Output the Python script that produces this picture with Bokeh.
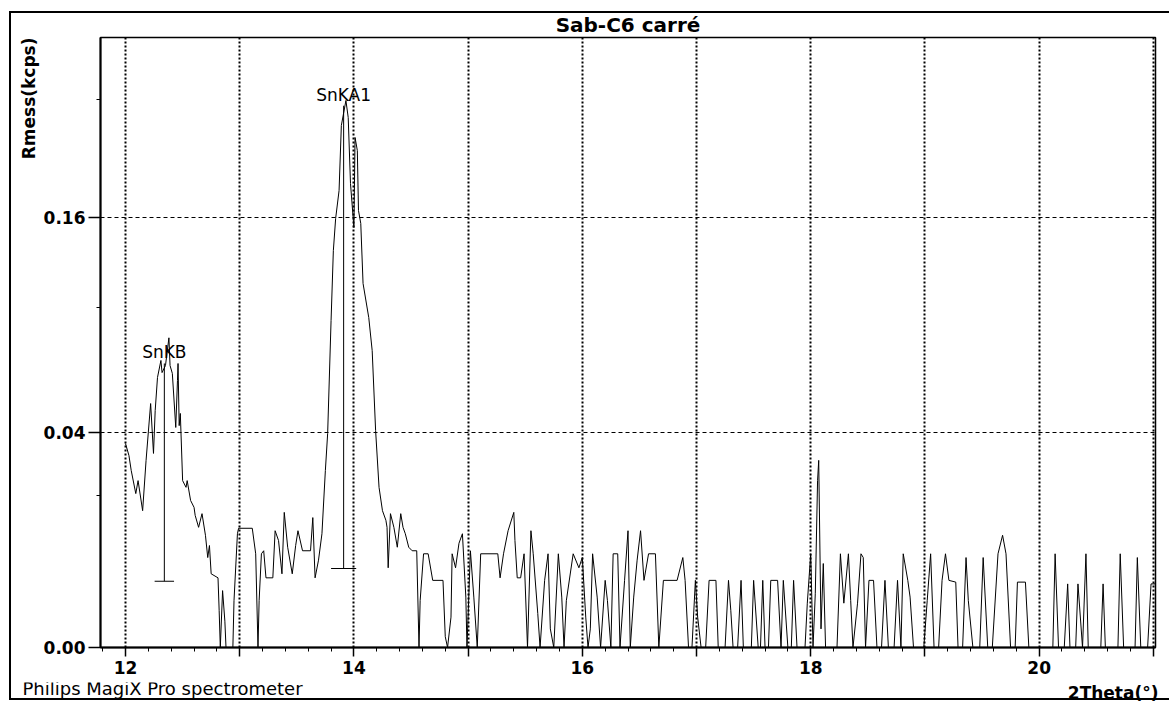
import numpy as np
from bokeh.plotting import figure
from bokeh.layouts import column
from bokeh.models import FixedTicker, CustomJSTickFormatter, Title
from bokeh.embed import file_html
from bokeh.resources import INLINE
from bokeh.core.properties import value

# ---------------- data (2Theta in degrees, intensity in kcps) ----------------
theta_1 = [12.00, 12.03, 12.05, 12.09, 12.11, 12.15, 12.18, 12.22, 12.245, 12.26,
           12.28, 12.31, 12.32, 12.35, 12.38, 12.39, 12.41, 12.44, 12.455, 12.46,
           12.47, 12.48, 12.50, 12.53, 12.54, 12.57, 12.60, 12.61, 12.64, 12.67,
           12.70, 12.72, 12.735, 12.75, 12.81, 12.82, 12.83, 12.85, 12.87, 12.88,
           12.94, 12.95, 12.98]
kcps_1 = [0.036, 0.0319, 0.0271, 0.0205, 0.0241, 0.0162, 0.0303, 0.0515, 0.0326, 0.0486,
          0.0631, 0.0713, 0.0654, 0.0688, 0.083, 0.0688, 0.065, 0.0419, 0.0617, 0.0698,
          0.0426, 0.0474, 0.0241, 0.0222, 0.0241, 0.0187, 0.0170, 0.0151, 0.0125, 0.0155,
          0.0109, 0.0070, 0.0090, 0.0047, 0.0042, 0.0012, 0.0, 0.0028, 0.0006, 0.0,
          0.0, 0.0019, 0.0112]

theta_2 = [12.99, 13.11, 13.14, 13.16, 13.17, 13.19, 13.21, 13.23, 13.29, 13.31,
           13.34, 13.37, 13.39, 13.42, 13.46, 13.49, 13.51, 13.55, 13.62, 13.64,
           13.66, 13.69, 13.72, 13.75, 13.77, 13.80, 13.82, 13.84, 13.87, 13.89,
           13.93, 13.95, 13.97, 14.00, 14.01, 14.03, 14.04, 14.06, 14.08, 14.13,
           14.16, 14.19, 14.22, 14.25, 14.28, 14.29, 14.30, 14.32, 14.35, 14.38,
           14.41, 14.43, 14.45, 14.48, 14.51, 14.55]
kcps_2 = [0.0123, 0.0123, 0.0076, 0.0, 0.0019, 0.0076, 0.0081, 0.0042, 0.0042, 0.0118,
          0.0099, 0.0047, 0.0158, 0.0087, 0.0047, 0.0090, 0.0118, 0.0081, 0.0081, 0.0146,
          0.0042, 0.0066, 0.0112, 0.0271, 0.0396, 0.0925, 0.1363, 0.1593, 0.1807, 0.2358,
          0.2589, 0.2431, 0.1863, 0.1526, 0.2251, 0.2137, 0.1653, 0.1556, 0.1147, 0.0942,
          0.0763, 0.0407, 0.0222, 0.0162, 0.0140, 0.0125, 0.0055, 0.0155, 0.0125, 0.0087,
          0.0155, 0.0125, 0.0112, 0.0087, 0.0081, 0.0081]

theta_3 = [14.57, 14.58, 14.61, 14.65, 14.69, 14.78, 14.80, 14.82, 14.85, 14.86,
           14.89, 14.92, 14.95, 14.98, 14.99, 15.02, 15.05, 15.08, 15.11, 15.26,
           15.28, 15.31, 15.35, 15.40, 15.41, 15.43, 15.46, 15.49, 15.52, 15.55,
           15.57, 15.61, 15.63, 15.67, 15.70, 15.72, 15.75, 15.79, 15.82, 15.84,
           15.86, 15.92, 15.97, 16.00, 16.03, 16.05, 16.07, 16.09, 16.13, 16.16,
           16.20, 16.22, 16.25, 16.27, 16.31, 16.33, 16.37, 16.40, 16.42, 16.45,
           16.48, 16.51, 16.54, 16.58, 16.64, 16.67, 16.71, 16.83, 16.88, 16.90,
           16.93, 16.96]
kcps_3 = [0.0, 0.0019, 0.0076, 0.0076, 0.0039, 0.0039, 0.0001, 0.0, 0.0008, 0.0076,
          0.0055, 0.0094, 0.0112, 0.0022, 0.0, 0.0081, 0.0022, 0.0, 0.0076, 0.0076,
          0.0042, 0.0076, 0.0118, 0.0158, 0.0099, 0.0042, 0.0042, 0.0076, 0.0, 0.0118,
          0.0076, 0.0010, 0.0, 0.0039, 0.0076, 0.0003, 0.0, 0.0076, 0.0022, 0.0,
          0.0019, 0.0076, 0.0055, 0.0070, 0.0008, 0.0, 0.0003, 0.0076, 0.0022, 0.0,
          0.0039, 0.0019, 0.0, 0.0076, 0.0076, 0.0, 0.0039, 0.0118, 0.0, 0.0022,
          0.0066, 0.0118, 0.0039, 0.0076, 0.0076, 0.0, 0.0039, 0.0039, 0.0070, 0.0039,
          0.0, 0.0]

theta_4 = [16.99, 17.01, 17.04, 17.08, 17.11, 17.17, 17.19, 17.25, 17.28, 17.30,
           17.32, 17.36, 17.39, 17.41, 17.48, 17.50, 17.54, 17.56, 17.58, 17.60,
           17.63, 17.65, 17.71, 17.74, 17.76, 17.80, 17.83, 17.85, 17.88, 17.95,
           17.97, 18.00, 18.02, 18.04, 18.06, 18.07, 18.09, 18.11, 18.13, 18.23,
           18.26, 18.29, 18.33, 18.35, 18.37, 18.41, 18.44, 18.46, 18.48, 18.51,
           18.55, 18.58, 18.62, 18.65, 18.68, 18.73, 18.76, 18.79, 18.81, 18.85,
           18.87, 18.90, 18.99, 19.02, 19.05, 19.08]
kcps_4 = [0.0039, 0.0008, 0.0, 0.0, 0.0039, 0.0039, 0.0, 0.0, 0.0039, 0.0012,
          0.0, 0.0, 0.0039, 0.0, 0.0, 0.0039, 0.0, 0.0, 0.0039, 0.0,
          0.0, 0.0039, 0.0039, 0.0, 0.0039, 0.0, 0.0, 0.0039, 0.0, 0.0,
          0.0017, 0.0076, 0.0, 0.0025, 0.0241, 0.0303, 0.0003, 0.0061, 0.0, 0.0,
          0.0076, 0.0017, 0.0076, 0.0019, 0.0, 0.0017, 0.0076, 0.0070, 0.0, 0.0039,
          0.0039, 0.0, 0.0, 0.0039, 0.0, 0.0, 0.0039, 0.0, 0.0076, 0.0039,
          0.0022, 0.0, 0.0, 0.0019, 0.0076, 0.0]

theta_5 = [19.12, 19.15, 19.18, 19.21, 19.27, 19.29, 19.33, 19.36, 19.38, 19.42,
           19.48, 19.51, 19.55, 19.59, 19.64, 19.68, 19.71, 19.75, 19.79, 19.81,
           19.88, 19.91, 20.12, 20.14, 20.17, 20.22, 20.25, 20.27, 20.32, 20.34,
           20.38, 20.41, 20.43, 20.54, 20.56, 20.58, 20.69, 20.71, 20.74, 20.84,
           20.86, 20.89, 20.95, 20.98, 21.02]
kcps_5 = [0.0, 0.0039, 0.0076, 0.0039, 0.0037, 0.0, 0.0, 0.0070, 0.0019, 0.0,
          0.0, 0.0070, 0.0, 0.0, 0.0076, 0.0109, 0.0076, 0.0, 0.0, 0.0037,
          0.0037, 0.0, 0.0, 0.0076, 0.0, 0.0, 0.0035, 0.0, 0.0, 0.0035,
          0.0, 0.0076, 0.0, 0.0, 0.0035, 0.0, 0.0, 0.0076, 0.0, 0.0,
          0.0070, 0.0, 0.0, 0.0035, 0.0035]

# line markers (peak identification)
marker_names = ["SnKB", "SnKA1"]
marker_theta = [12.34, 13.91]
marker_top = [0.0698, 0.254]
marker_base = [0.0038, 0.0054]
marker_cap = [0.085, 0.11]

# axes
x_start, x_end = 11.781, 21.019
y_top_kcps = 0.322
y_major_kcps = [0.0, 0.04, 0.16]
y_minor_kcps = [0.02, 0.10, 0.26]
x_major = [12, 13, 14, 15, 16, 17, 18, 19, 20, 21]

title_text = "Sab-C6 carré"
y_label = "Rmess(kcps)"
x_label = "2Theta(°)"
footer = "Philips MagiX Pro spectrometer"

# ---------------- build ----------------
theta = theta_1 + theta_2 + theta_3 + theta_4 + theta_5
kcps = kcps_1 + kcps_2 + kcps_3 + kcps_4 + kcps_5
assert len(theta) == len(kcps), (len(theta), len(kcps))
y_sqrt = np.sqrt(np.array(kcps))   # square-root intensity scale

FONT = "DejaVu Sans"
W = 1169
H_MAIN = 682
H_FOOT = 21

p = figure(width=W, height=H_MAIN, output_backend="svg", toolbar_location=None,
           x_range=(x_start, x_end), y_range=(0, float(np.sqrt(y_top_kcps))),
           min_border_left=100, min_border_right=14, min_border_top=37,
           min_border_bottom=35, title=title_text)

p.title.text_font = FONT
p.title.text_font_style = "bold"
p.title.text_font_size = "20px"
p.title.text_color = "black"
p.title.align = "center"
p.title.standoff = 2
p.title.offset = 0

p.outline_line_color = "black"
p.outline_line_width = 1.5
p.background_fill_color = "white"
p.border_fill_alpha = 0

# x axis
xminor = [round(11.8 + 0.2 * i, 1) for i in range(47)]
p.xaxis.ticker = FixedTicker(ticks=x_major, minor_ticks=xminor)
p.xaxis.formatter = CustomJSTickFormatter(code="return (Math.round(tick) % 2 == 0) ? tick.toFixed(0) : '';")
p.xaxis.major_tick_out = 9
p.xaxis.major_tick_in = 0
p.xaxis.minor_tick_out = 4
p.xaxis.minor_tick_in = 0
p.xaxis.axis_line_width = 2
p.xaxis.major_tick_line_width = 1.5
p.xaxis.major_label_text_font = FONT
p.xaxis.major_label_text_font_style = "bold"
p.xaxis.major_label_text_font_size = "17px"
p.xaxis.major_label_text_color = "black"
p.xaxis.major_label_standoff = 4

# y axis (square-root scale)
p.yaxis.ticker = FixedTicker(ticks=[float(np.sqrt(v)) for v in y_major_kcps],
                             minor_ticks=[float(np.sqrt(v)) for v in y_minor_kcps])
p.yaxis.formatter = CustomJSTickFormatter(code="return (tick*tick).toFixed(2);")
p.yaxis.major_tick_out = 12
p.yaxis.major_tick_in = 0
p.yaxis.minor_tick_out = 4
p.yaxis.minor_tick_in = 0
p.yaxis.axis_line_width = 2
p.yaxis.major_tick_line_width = 1.5
p.yaxis.major_label_text_font = FONT
p.yaxis.major_label_text_font_style = "bold"
p.yaxis.major_label_text_font_size = "17px"
p.yaxis.major_label_text_color = "black"
p.yaxis.major_label_standoff = 3

# grids
p.xgrid.ticker = FixedTicker(ticks=x_major)
p.xgrid.grid_line_color = "black"
p.xgrid.grid_line_dash = "2 2"
p.xgrid.grid_line_width = 2
p.ygrid.grid_line_color = "black"
p.ygrid.grid_line_dash = "4 3"
p.ygrid.grid_line_width = 1

# spectrum
p.line(theta, y_sqrt, line_color="black", line_width=1)

# peak markers
m_top = np.sqrt(np.array(marker_top))
m_base = np.sqrt(np.array(marker_base))
m_x = np.array(marker_theta)
m_cap = np.array(marker_cap)
p.segment(x0=m_x, y0=m_base, x1=m_x, y1=m_top, line_color="black", line_width=1)
p.segment(x0=m_x - m_cap, y0=m_base, x1=m_x + m_cap, y1=m_base, line_color="black", line_width=1.2)
p.text(x=m_x, y=m_top, text=marker_names, text_font=value(FONT), text_font_size="17px",
       text_align="center", text_baseline="bottom", y_offset=-1, text_color="black")

# y-axis title, at the top end of the left side
p.add_layout(Title(text=y_label, align="right", text_font=FONT, text_font_style="bold",
                   text_font_size="17px", text_color="black", standoff=4), "left")

# footer strip (pixel coordinates of the strip)
f = figure(width=W, height=H_FOOT, output_backend="svg", toolbar_location=None,
           x_range=(0, W), y_range=(0, H_FOOT), x_axis_location=None, y_axis_location=None,
           title=None, min_border=0, min_border_left=0, min_border_right=0,
           min_border_top=0, min_border_bottom=0)
for fig in (p, f):
    fig.margin = (0, 0, 0, 0)
    if "frame_align" in fig.properties():
        fig.frame_align = False
f.grid.visible = False
f.outline_line_color = None
f.background_fill_alpha = 0
f.border_fill_alpha = 0
f.text(x=[22], y=[15], text=[footer], text_font=value(FONT), text_font_size="18px",
       text_align="left", text_baseline="alphabetic", text_color="black")
f.text(x=[1158], y=[11], text=[x_label], text_font=value(FONT), text_font_size="17px",
       text_font_style="bold", text_align="right", text_baseline="alphabetic",
       text_color="black")

# outer frame of the printout, drawn behind the transparent canvases
frame_css = ("linear-gradient(#000,#000) 9px 11px / 2px 688px no-repeat, "
             "linear-gradient(#000,#000) 9px 11px / 1160px 2px no-repeat, "
             "linear-gradient(#000,#000) 9px 698px / 1160px 2px no-repeat, #fff")
layout = column(p, f, spacing=0, margin=(0, 0, 0, 0), styles={"background": frame_css})

open("out.html", "w").write(file_html(layout, INLINE))
